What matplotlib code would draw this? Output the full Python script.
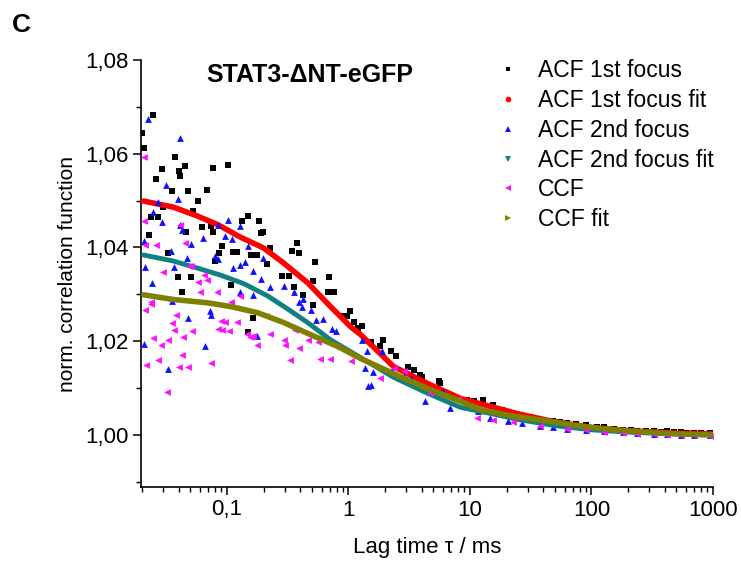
import matplotlib
import numpy as np
import matplotlib.pyplot as plt
from matplotlib.lines import Line2D
from matplotlib.ticker import FixedLocator, LogLocator, MultipleLocator, FuncFormatter, NullFormatter

matplotlib.use('Agg')
plt.rcParams['font.family'] = ['Liberation Sans', 'DejaVu Sans']

# ACF 1st focus (black squares), lag time in ms
acf1_tau = [0.0199, 0.0206, 0.0244, 0.0370, 0.0294, 0.0258, 0.0399, 0.0447, 0.0414, 0.0356,
            0.0482, 0.0774, 0.101, 0.0691, 0.0582, 0.0530, 0.0235, 0.0273, 0.0300, 0.0230,
            0.0324, 0.0464, 0.0617, 0.0732, 0.0760, 0.0918, 0.0867, 0.113, 0.122, 0.107,
            0.0804, 0.0392, 0.0501, 0.0430, 0.134, 0.150, 0.182, 0.196, 0.189, 0.159,
            0.178, 0.228, 0.215, 0.286, 0.321, 0.346, 0.380, 0.388, 0.359, 0.535,
            0.506, 0.685, 0.426, 0.753, 0.672, 0.515, 1.02, 0.963, 0.893, 1.10,
            1.28, 1.19, 0.148, 0.165, 1.52, 1.94, 1.83, 2.22, 2.44, 3.06,
            3.43, 3.91, 4.06, 5.51, 5.71, 9.53, 10.7, 12.9, 15.6, 18.5,
            20.7, 27.0, 33.0, 38.0, 47.8, 55.0, 63.4, 75.0, 89.3, 110,
            126, 152, 183, 210, 239, 280, 324, 370, 422, 480,
            541, 610, 692, 800, 953]
acf1_g = [1.0645, 1.0613, 1.0683, 1.0592, 1.0567, 1.0547, 1.0564, 1.0573, 1.0552, 1.0520,
          1.0520, 1.0569, 1.0575, 1.0522, 1.0499, 1.0477, 1.0465, 1.0465, 1.0486, 1.0427,
          1.0388, 1.0433, 1.0443, 1.0446, 1.0433, 1.0403, 1.0388, 1.0390, 1.0390, 1.0320,
          1.0371, 1.0337, 1.0337, 1.0306, 1.0456, 1.0467, 1.0456, 1.0433, 1.0431, 1.0384,
          1.0384, 1.0399, 1.0365, 1.0340, 1.0340, 1.0393, 1.0410, 1.0388, 1.0316, 1.0369,
          1.0329, 1.0337, 1.0299, 1.0306, 1.0306, 1.0278, 1.0265, 1.0253, 1.0253, 1.0240,
          1.0233, 1.0229, 1.0219, 1.0250, 1.0199, 1.0202, 1.0189, 1.0180, 1.0168, 1.0146,
          1.0138, 1.0127, 1.0123, 1.0115, 1.0110, 1.0074, 1.0072, 1.0074, 1.0064, 1.0053,
          1.0049, 1.0040, 1.0036, 1.0032, 1.0030, 1.0027, 1.0025, 1.0023, 1.0021, 1.0018,
          1.0017, 1.0013, 1.0011, 1.0010, 1.0008, 1.0008, 1.0008, 1.0007, 1.0008, 1.0006,
          1.0006, 1.0005, 1.0004, 1.0004, 1.0004]

# ACF 1st focus fit (red)
fit1_tau = [0.0206, 0.0363, 0.0572, 0.0851, 0.129, 0.200, 0.292, 0.460, 0.711, 1.04,
            1.26, 2.35, 4.47, 8.35, 14.7, 25.0, 50.0, 100, 200, 500, 1000]
fit1_g = [1.0499, 1.0486, 1.0467, 1.0448, 1.0422, 1.0399, 1.0367, 1.0325, 1.0274, 1.0231,
          1.0214, 1.0146, 1.0110, 1.0078, 1.0061, 1.0045, 1.0028, 1.0016, 1.0009, 1.0004, 1.0002]

# ACF 2nd focus (blue triangles)
acf2_tau = [0.0222, 0.0414, 0.0312, 0.0392, 0.0273, 0.0248, 0.0294, 0.0414, 0.0430, 0.0851,
            0.101, 0.129, 0.0972, 0.111, 0.150, 0.0629, 0.0501, 0.0343, 0.0213, 0.0363,
            0.0473, 0.0804, 0.0851, 0.113, 0.129, 0.142, 0.165, 0.196, 0.189, 0.165,
            0.129, 0.228, 0.292, 0.353, 0.388, 0.426, 0.418, 0.487, 0.545, 0.622,
            0.738, 0.782, 0.0240, 0.0356, 0.0482, 0.0718, 0.0745, 0.0206, 0.0665, 0.178,
            0.0206, 0.0324, 1.30, 1.43, 1.38, 1.58, 1.90, 1.52, 2.30, 2.84,
            3.24, 4.30, 6.05, 6.91, 1.46, 11.7, 14.7, 20.7, 27.0, 38.0,
            47.8, 63.4, 89.3, 126, 183, 239, 324, 422, 541, 692, 953]
acf2_g = [1.0675, 1.0634, 1.0533, 1.0503, 1.0497, 1.0475, 1.0454, 1.0448, 1.0437, 1.0448,
          1.0458, 1.0446, 1.0424, 1.0418, 1.0403, 1.0420, 1.0407, 1.0393, 1.0359, 1.0359,
          1.0378, 1.0382, 1.0376, 1.0356, 1.0363, 1.0369, 1.0350, 1.0378, 1.0333, 1.0299,
          1.0306, 1.0316, 1.0318, 1.0306, 1.0284, 1.0291, 1.0274, 1.0267, 1.0246, 1.0248,
          1.0227, 1.0221, 1.0325, 1.0286, 1.0250, 1.0265, 1.0255, 1.0195, 1.0189, 1.0212,
          1.0414, 1.0140, 1.0202, 1.0180, 1.0142, 1.0134, 1.0180, 1.0106, 1.0138, 1.0125,
          1.0121, 1.0072, 1.0093, 1.0057, 1.0104, 1.0051, 1.0036, 1.0030, 1.0025, 1.0019,
          1.0017, 1.0013, 1.0011, 1.0008, 1.0006, 1.0004, 1.0002, 1.0002, 1.0000, 0.9999, 0.9999]

# ACF 2nd focus fit (teal)
fit2_tau = [0.0206, 0.0363, 0.0572, 0.0885, 0.137, 0.215, 0.315, 0.460, 0.711, 1.26,
            2.35, 4.47, 8.35, 14.7, 25.0, 50.0, 100, 200, 500, 1000]
fit2_g = [1.0384, 1.0371, 1.0356, 1.0341, 1.0323, 1.0297, 1.0269, 1.0240, 1.0203, 1.0165,
          1.0123, 1.0089, 1.0059, 1.0046, 1.0033, 1.0020, 1.0011, 1.0006, 1.0002, 1.0000]

# CCF (magenta left triangles)
ccf_tau = [0.0300, 0.0491, 0.0582, 0.0691, 0.0641, 0.0835, 0.0213, 0.0235, 0.0384, 0.0356,
           0.0363, 0.0520, 0.0438, 0.0330, 0.0244, 0.0284, 0.0430, 0.0273, 0.0217, 0.0399,
           0.0482, 0.0745, 0.0318, 0.0885, 0.0972, 0.0918, 0.0851, 0.103, 0.120, 0.145,
           0.156, 0.165, 0.178, 0.129, 0.107, 0.0605, 0.0206, 0.0258, 0.0213, 0.0414,
           0.0455, 0.0501, 0.0206, 0.0235, 0.211, 0.228, 0.292, 0.303, 0.366, 0.388,
           0.588, 0.711, 0.327, 0.460, 0.556, 0.812, 1.04, 1.83, 2.35, 2.84,
           4.70, 7.90, 11.5, 15.6, 22.8, 38.0, 63.4, 89.3, 126, 183,
           239, 324, 422, 541, 692, 953]
ccf_g = [1.0348, 1.0361, 1.0327, 1.0331, 1.0342, 1.0306, 1.0267, 1.0280, 1.0255, 1.0238,
         1.0225, 1.0221, 1.0208, 1.0202, 1.0206, 1.0191, 1.0170, 1.0159, 1.0149, 1.0144,
         1.0144, 1.0153, 1.0091, 1.0244, 1.0242, 1.0225, 1.0227, 1.0221, 1.0242, 1.0216,
         1.0208, 1.0212, 1.0191, 1.0297, 1.0284, 1.0306, 1.0456, 1.0405, 1.0405, 1.0448,
         1.0410, 1.0361, 1.0594, 1.0284, 1.0253, 1.0216, 1.0202, 1.0191, 1.0223, 1.0185,
         1.0163, 1.0163, 1.0159, 1.0202, 1.0199, 1.0189, 1.0157, 1.0121, 1.0142, 1.0136,
         1.0089, 1.0076, 1.0036, 1.0032, 1.0027, 1.0019, 1.0013, 1.0010, 1.0007, 1.0005,
         1.0003, 1.0002, 1.0001, 1.0000, 0.9999, 0.9998]

# CCF fit (olive)
fitc_tau = [0.0206, 0.0363, 0.0691, 0.107, 0.178, 0.292, 0.487, 0.812, 1.26, 2.35,
            4.47, 8.35, 12.2, 22.8, 43.4, 81.1, 152, 289, 541, 1000]
fitc_g = [1.0299, 1.0289, 1.0282, 1.0274, 1.0261, 1.0240, 1.0214, 1.0189, 1.0163, 1.0131,
          1.0099, 1.0072, 1.0054, 1.0040, 1.0030, 1.0019, 1.0011, 1.0006, 1.0002, 1.0000]

labels = ['ACF 1st focus', 'ACF 1st focus fit', 'ACF 2nd focus',
          'ACF 2nd focus fit', 'CCF', 'CCF fit']
x_ticks = [0.1, 1, 10, 100, 1000]
x_ticklabels = ['0,1', '1', '10', '100', '1000']

c_red = '#ff0000'
c_blue = '#1010ff'
c_teal = '#118080'
c_mag = '#ff10ff'
c_olive = '#808000'

fig = plt.figure(figsize=(7.41, 5.65), dpi=100)
ax = fig.add_axes([141 / 741, 78 / 565, 572 / 741, 427 / 565])

ax.scatter(acf1_tau, acf1_g, marker='s', s=18, color='black', lw=0, zorder=2)
ax.plot(fit1_tau, fit1_g, color=c_red, lw=4, solid_capstyle='round', zorder=3)
ax.scatter(acf2_tau, acf2_g, marker='^', s=24, color=c_blue, lw=0, zorder=4)
ax.plot(fit2_tau, fit2_g, color=c_teal, lw=3.5, solid_capstyle='round', zorder=5)
ax.scatter(ccf_tau, ccf_g, marker='<', s=24, color=c_mag, lw=0, zorder=6)
ax.plot(fitc_tau, fitc_g, color=c_olive, lw=4, solid_capstyle='round', zorder=7)

ax.set_xscale('log')
ax.set_xlim(0.0196, 1000)
ax.set_ylim(0.9889, 1.08)

ax.xaxis.set_major_locator(FixedLocator(x_ticks))
ax.xaxis.set_major_formatter(FuncFormatter(lambda v, p: x_ticklabels[x_ticks.index(v)] if v in x_ticks else ''))
ax.xaxis.set_minor_locator(LogLocator(base=10, subs=np.arange(2, 10)))
ax.xaxis.set_minor_formatter(NullFormatter())
ax.yaxis.set_major_locator(FixedLocator([1.00, 1.02, 1.04, 1.06, 1.08]))
ax.yaxis.set_major_formatter(FuncFormatter(lambda v, p: f'{v:.2f}'.replace('.', ',')))
ax.yaxis.set_minor_locator(MultipleLocator(0.01))

for s in ['top', 'right']:
    ax.spines[s].set_visible(False)
for s in ['left', 'bottom']:
    ax.spines[s].set_linewidth(1.2)
ax.tick_params(which='major', length=6, width=1.1, labelsize=16, direction='out', pad=3)
ax.tick_params(which='minor', length=3.5, width=1.0, direction='out')

ax.set_xlabel('Lag time \u03c4 / ms', fontsize=16, labelpad=12)
ax.set_ylabel('norm. correlation function', fontsize=15, labelpad=6)

fig.text(310 / 741, 1 - 75 / 565, 'STAT3-\u0394NT-eGFP', fontsize=18, weight='bold',
         ha='center', va='center')
fig.text(12 / 741, 1 - 25 / 565, 'C', fontsize=19, weight='bold', ha='left', va='center')

handles = [
    Line2D([], [], ls='none', marker='s', ms=3.5, color='black', mew=0),
    Line2D([], [], ls='none', marker='o', ms=4, color=c_red, mew=0),
    Line2D([], [], ls='none', marker='^', ms=4, color=c_blue, mew=0),
    Line2D([], [], ls='none', marker='v', ms=4, color=c_teal, mew=0),
    Line2D([], [], ls='none', marker='<', ms=4, color=c_mag, mew=0),
    Line2D([], [], ls='none', marker='>', ms=4, color=c_olive, mew=0),
]
fig.legend(handles, labels, loc='upper left', bbox_to_anchor=(497 / 741, 1 - 59 / 565),
           frameon=False, fontsize=16.5, handlelength=1.0, handletextpad=0.8,
           labelspacing=0.3, borderpad=0, borderaxespad=0)

fig.savefig('out.png', dpi=100)
